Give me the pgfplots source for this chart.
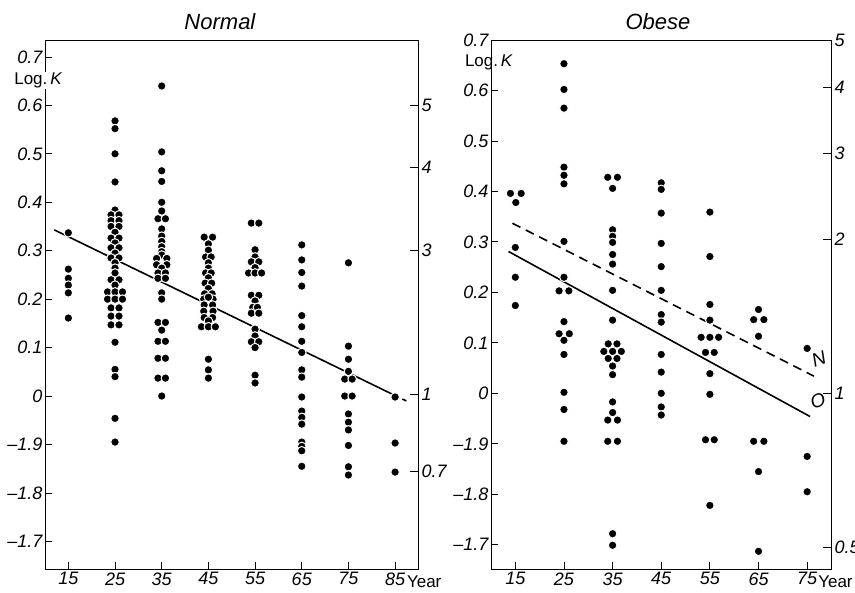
\documentclass[border=0pt]{standalone}
\usepackage{fontspec}
\setmainfont{Liberation Sans}
\usepackage{pgfplots}
\pgfplotsset{compat=1.18}

\pgfplotsset{
  panel/.style={
    scale only axis, anchor=south west, height=529pt,
    axis line style={line width=0.8pt},
    tick align=inside, major tick length=7pt,
    tick style={line width=0.8pt, black},
    xtick pos=bottom, ytick pos=left,
    ticklabel style={font=\fontsize{18}{18}\selectfont\itshape},
    yticklabel style={xshift=1pt},
    title style={font=\fontsize{22}{22}\selectfont\itshape, anchor=south, yshift=1pt},
    clip=false,
  },
  kaxis/.style={
    scale only axis, anchor=south west, height=529pt,
    axis x line=none, axis y line*=right,
    axis line style={line width=0.8pt},
    tick align=inside, major tick length=8pt,
    tick style={line width=0.8pt, black},
    ticklabel style={font=\fontsize{18}{18}\selectfont\itshape},
  },
  dots/.style={only marks, mark=*, mark size=4.3pt,
    mark options={draw=white, fill=black, line width=1pt}},
  fit/.style={black, line width=1.6pt},
}

\begin{document}
\begin{tikzpicture}
\useasboundingbox (0,0) rectangle (855pt,593pt);

% ---------------- Normal ----------------
\begin{axis}[panel, at={(45pt,24pt)}, width=373pt,
  xmin=10, xmax=89.9, ymin=-0.357, ymax=0.735,
  xtick={15,25,35,45,55,65,75,85},
  xticklabels={15,25,35,45,55,65,75,85},
  ytick={0.7,0.6,0.5,0.4,0.3,0.2,0.1,0,-0.1,-0.2,-0.3},
  yticklabels={0.7,0.6,0.5,0.4,0.3,0.2,0.1,0,--1.9,--1.8,--1.7},
  title={Normal}, title style={at={(0.469,1)}},
]
\addplot[fit] coordinates {(12,0.343) (85,0.001)};
\addplot[fit, dash pattern=on 5pt off 3pt] coordinates {(85,0.001) (87.4,-0.010)};
\addplot[dots] table {
15 0.337
15 0.262
15 0.243
15 0.229
15 0.213
15 0.161
25 0.568
25 0.552
25 0.500
25 0.442
25 0.384
24.15 0.374
25.85 0.374
24.15 0.362
25.85 0.362
24.15 0.350
25.85 0.350
25 0.338
24.15 0.326
25.85 0.326
25 0.316
24.15 0.306
25.85 0.306
25 0.295
24.15 0.285
25.85 0.285
25 0.275
25 0.264
25 0.254
24.15 0.240
25.85 0.240
25 0.229
23.4 0.215
25 0.215
26.6 0.215
23.4 0.200
25 0.200
26.6 0.200
24.15 0.182
25.85 0.182
24.15 0.165
25.85 0.165
24.15 0.147
25.85 0.147
25 0.111
25 0.055
25 0.040
25 -0.046
25 -0.095
35 0.640
35 0.504
35 0.465
35 0.443
35 0.400
35 0.382
34.2 0.366
35.8 0.366
35 0.345
35 0.330
35 0.319
35 0.308
35 0.298
35 0.291
33.9 0.284
36.1 0.284
33.9 0.271
36.1 0.271
35 0.264
34.2 0.254
35.8 0.254
34.2 0.243
35.8 0.243
35 0.213
35 0.200
34.2 0.152
35.8 0.152
35 0.136
34.2 0.113
35.8 0.113
34.2 0.078
35.8 0.078
34.2 0.037
35.8 0.037
35 0.000
44.1 0.328
45.9 0.328
45 0.314
45 0.301
44.4 0.287
45.6 0.287
45 0.275
45 0.264
44.4 0.254
45.6 0.254
45 0.244
44.3 0.233
45.7 0.233
45 0.222
44.2 0.211
45.8 0.211
44 0.200
46 0.200
45 0.204
44.1 0.188
45.9 0.188
44 0.175
46 0.175
44.1 0.162
45.9 0.162
45 0.155
43.5 0.143
45 0.143
46.5 0.143
45 0.076
45 0.054
45 0.037
54.2 0.357
55.8 0.357
55 0.302
55 0.287
54.2 0.277
55.8 0.277
55 0.265
53.6 0.254
55 0.254
56.4 0.254
54.2 0.208
55.8 0.208
55 0.196
54.5 0.183
55.5 0.183
54.2 0.171
55.8 0.171
55 0.138
55 0.124
54.2 0.112
55.8 0.112
55 0.100
55 0.043
55 0.027
65 0.312
65 0.281
65 0.255
65 0.227
65 0.166
65 0.143
65 0.113
65 0.090
65 0.054
65 0.039
65 -0.002
65 -0.031
65 -0.044
65 -0.058
65 -0.095
65 -0.104
65 -0.113
65 -0.145
75 0.275
75 0.103
75 0.076
75 0.051
74.2 0.035
75.8 0.035
74.2 0.000
75.8 0.000
75 -0.037
75 -0.054
75 -0.070
75 -0.102
75 -0.146
75 -0.163
85 -0.002
85 -0.097
85 -0.157
};
\node[fill=white, inner sep=1pt, font=\fontsize{17}{17}\selectfont] at (rel axis cs:-0.018,0.924) {Log.\,\textit{K}};
\node[anchor=north west, inner sep=0pt, font=\fontsize{17}{17}\selectfont] at (rel axis cs:0.97,-0.012) {Year};
\end{axis}
\begin{axis}[kaxis, at={(45pt,24pt)}, width=373pt,
  xmin=10, xmax=89.9, ymin=-0.357, ymax=0.735,
  ytick={0.6,0.473,0.3,0.003,-0.155},
  yticklabels={5,4,3,1,0.7},
]
\node[font=\fontsize{18}{18}\selectfont\itshape] at (rel axis cs:1.026,0.953) {K};
\end{axis}

% ---------------- Obese ----------------
\begin{axis}[panel, at={(491pt,24pt)}, width=340pt,
  xmin=10, xmax=79.9, ymin=-0.348, ymax=0.70,
  xtick={15,25,35,45,55,65,75},
  xticklabels={15,25,35,45,55,65,75},
  ytick={0.7,0.6,0.5,0.4,0.3,0.2,0.1,0,-0.1,-0.2,-0.3},
  yticklabels={0.7,0.6,0.5,0.4,0.3,0.2,0.1,0,--1.9,--1.8,--1.7},
  title={Obese}, title style={at={(0.491,1)}},
]
\addplot[fit, dash pattern=on 9pt off 6pt] coordinates {(14.4,0.337) (76.4,0.034)};
\addplot[fit] coordinates {(13.6,0.281) (75.6,-0.046)};
\addplot[dots] table {
14 0.396
16.2 0.396
15.1 0.378
15 0.289
15 0.230
15 0.174
25 0.653
25 0.602
25 0.565
25 0.448
25 0.432
25 0.415
25 0.301
25 0.230
24 0.203
26 0.203
25 0.142
24 0.118
26.1 0.118
25 0.105
25 0.077
25 0.002
25 -0.032
25 -0.095
34 0.428
36 0.428
35 0.406
35 0.324
35 0.311
35 0.299
35 0.275
35 0.256
35 0.204
35 0.145
34.1 0.098
35.9 0.098
33.2 0.083
35 0.083
36.8 0.083
34.1 0.069
35.9 0.069
35 0.054
35 0.037
35 -0.017
35 -0.038
34 -0.053
36 -0.053
34 -0.095
36 -0.095
35 -0.278
35 -0.301
45 0.417
45 0.404
45 0.357
45 0.297
45 0.251
45 0.204
45 0.156
45 0.141
45 0.077
45 0.042
45 0.000
45 -0.027
45 -0.043
55 0.359
55 0.271
55 0.176
55 0.145
53.2 0.111
55 0.111
56.8 0.111
54.1 0.081
55.9 0.081
55 0.039
55 -0.002
54.1 -0.092
55.9 -0.092
55 -0.222
65 0.166
64 0.146
66.1 0.146
65 0.113
64 -0.095
66.1 -0.095
65 -0.155
65 -0.313
75 0.089
75 -0.125
75 -0.195
};
\node[font=\fontsize{19}{19}\selectfont\itshape, rotate=20] at (axis cs:77.4,0.068) {N};
\node[font=\fontsize{19}{19}\selectfont\itshape, rotate=20] at (axis cs:77.2,-0.015) {O};
\node[inner sep=1pt, font=\fontsize{17}{17}\selectfont] at (rel axis cs:-0.006,0.957) {Log.\,\textit{K}};
\node[anchor=north west, inner sep=0pt, font=\fontsize{17}{17}\selectfont] at (rel axis cs:0.962,-0.012) {Year};
\end{axis}
\begin{axis}[kaxis, at={(491pt,24pt)}, width=340pt,
  xmin=10, xmax=79.9, ymin=-0.348, ymax=0.70,
  ytick={0.699,0.606,0.475,0.305,0,-0.305},
  yticklabels={5,4,3,2,1,0.5},
]
\node[font=\fontsize{18}{18}\selectfont\itshape] at (rel axis cs:1.03,0.957) {K};
\end{axis}
\end{tikzpicture}
\end{document}
